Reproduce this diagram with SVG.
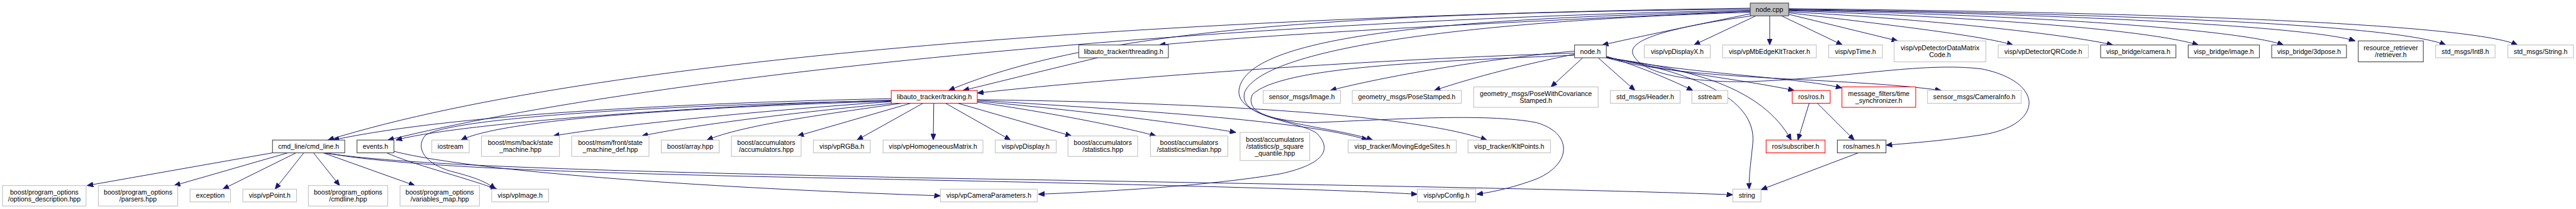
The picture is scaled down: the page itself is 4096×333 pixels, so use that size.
<svg xmlns="http://www.w3.org/2000/svg" width="4096" height="333" viewBox="0 0 4096 333">
<style>
rect{stroke-width:1.3}
.g{fill:#fff;stroke:#bfbfbf}
.b{fill:#fff;stroke:#404040}
.r{fill:#fff;stroke:#ff0000}
.root{fill:#bfbfbf;stroke:#404040}
text{font-family:"Liberation Sans",Arial,Helvetica,sans-serif;font-size:13.1px;text-anchor:middle;fill:#000}
#edges path{fill:none;stroke:#191970;stroke-width:1.2;marker-end:url(#ah)}
</style>
<defs>
<marker id="ah" markerUnits="userSpaceOnUse" markerWidth="12" markerHeight="10" viewBox="0 0 12 10" refX="12" refY="5" orient="auto">
<path d="M0,0 L12,5 L0,10 z" fill="#191970" stroke="#191970" stroke-width="1"/>
</marker>
</defs>
<rect width="4096" height="333" fill="#fff"/>
<g transform="scale(0.81446)">
<g id="edges">
<path d="M3417,27 C3330,45 3230,65 3128,88"/>
<path d="M3417,22 C3000,40 2500,65 2263,88"/>
<path d="M3428,31 L3307,88"/>
<path d="M3455,31 L3455,88"/>
<path d="M3478,31 L3597,88"/>
<path d="M3492,28 L3705,80"/>
<path d="M3492,25 C3700,50 3870,70 3930,88"/>
<path d="M3492,23 C3800,40 4050,70 4125,88"/>
<path d="M3492,21 C3900,35 4200,60 4292,88"/>
<path d="M3492,20 C4000,30 4380,60 4458,88"/>
<path d="M3492,19 C4100,28 4520,55 4598,80"/>
<path d="M3492,18 C4200,28 4680,50 4775,88"/>
<path d="M3492,17 C4300,25 4830,50 4915,88"/>
<path d="M3417,18 C2700,25 2150,50 1852,177"/>
<path d="M3417,16 C2400,30 1200,100 640,274"/>
<path d="M3417,20 C2400,40 1300,140 757,274"/>
<path d="M3417,22 C2900,35 2450,60 2420,170 C2400,240 2600,245 2680,274"/>
<path d="M3417,24 C2900,40 2470,90 2430,180 C2415,230 2530,235 2570,260 C2600,290 2590,320 2500,340 C2350,365 2150,375 2027,380"/>
<path d="M3074,108 C2800,120 2500,130 2445,185 C2430,220 2480,235 2560,240 C2700,235 2900,220 3000,240 C3070,260 3070,320 3000,350 C2960,365 2920,375 2883,380"/>
<path d="M3420,31 C3250,55 3170,80 3190,110 C3210,145 3300,160 3400,160 C3600,155 3750,120 3870,135 C3990,160 3990,240 3880,262 C3800,275 3730,280 3682,284"/>
<path d="M3074,104 C2700,115 2200,150 1908,182"/>
<path d="M3074,100 C2900,115 2700,150 2597,177"/>
<path d="M3074,106 C2980,125 2880,150 2800,177"/>
<path d="M3090,113 L3028,170"/>
<path d="M3120,113 L3192,177"/>
<path d="M3136,110 C3200,130 3260,155 3305,177"/>
<path d="M3136,111 C3250,140 3400,155 3503,177"/>
<path d="M3136,112 C3300,145 3500,150 3596,172"/>
<path d="M3136,113 C3300,160 3600,150 3790,177"/>
<path d="M3136,113 C3300,135 3440,170 3497,274"/>
<path d="M3136,112 C3300,140 3430,190 3422,280 C3418,320 3414,345 3415,370"/>
<path d="M2143,113 C2050,135 1950,160 1880,177"/>
<path d="M1740,193 C1400,200 900,220 650,274"/>
<path d="M1740,196 C1400,205 900,240 773,274"/>
<path d="M1740,198 C1500,205 1000,225 900,274"/>
<path d="M1740,199 C1500,215 1200,245 1080,266"/>
<path d="M1745,202 C1550,220 1350,245 1253,266"/>
<path d="M1760,202 C1600,225 1450,245 1380,274"/>
<path d="M1778,202 L1557,266"/>
<path d="M1802,202 L1673,274"/>
<path d="M1823,202 L1822,274"/>
<path d="M1846,202 L1973,274"/>
<path d="M1870,202 L2092,266"/>
<path d="M1908,200 C2050,220 2200,250 2257,266"/>
<path d="M1908,198 C2150,220 2330,245 2413,259"/>
<path d="M1908,196 C2200,215 2550,235 2670,274"/>
<path d="M1908,195 C2300,200 2750,220 2903,274"/>
<path d="M1740,197 C1300,205 880,230 830,265 C810,290 830,320 880,335 C920,345 950,355 967,370"/>
<path d="M755,299 C800,320 900,345 970,370"/>
<path d="M769,296 C900,330 1300,365 1836,383"/>
<path d="M532,299 L170,363"/>
<path d="M562,299 L340,363"/>
<path d="M578,299 L435,370"/>
<path d="M593,299 L537,370"/>
<path d="M612,299 L663,363"/>
<path d="M631,299 L810,363"/>
<path d="M635,299 C800,330 1200,340 1700,350 C2200,360 2600,370 2767,380"/>
<path d="M632,299 C800,325 1200,335 1800,348 C2500,360 3100,370 3383,381"/>
<path d="M3532,202 L3510,274"/>
<path d="M3548,202 L3620,274"/>
<path d="M3628,299 L3438,371"/>
</g>
<g id="n_nodecpp"><rect class="root" x="3417" y="6" width="75" height="25"/><text x="3454.5" y="23">node.cpp</text></g>
<g id="n_threading"><rect class="b" x="2106" y="88" width="175" height="25"/><text x="2193.5" y="105">libauto_tracker/threading.h</text></g>
<g id="n_nodeh"><rect class="b" x="3074" y="88" width="62" height="25"/><text x="3105" y="105">node.h</text></g>
<g id="n_vpDisplayX"><rect class="g" x="3210" y="88" width="129" height="25"/><text x="3274.5" y="105">visp/vpDisplayX.h</text></g>
<g id="n_vpMbEdgeKlt"><rect class="g" x="3363" y="88" width="183" height="25"/><text x="3454.5" y="105">visp/vpMbEdgeKltTracker.h</text></g>
<g id="n_vpTime"><rect class="g" x="3570" y="88" width="105" height="25"/><text x="3622.5" y="105">visp/vpTime.h</text></g>
<g id="n_dataMatrix"><rect class="g" x="3698" y="80" width="179" height="41"/><text x="3787.5" y="98">visp/vpDetectorDataMatrix</text><text x="3787.5" y="112">Code.h</text></g>
<g id="n_qrcode"><rect class="g" x="3901" y="88" width="176" height="25"/><text x="3989" y="105">visp/vpDetectorQRCode.h</text></g>
<g id="n_camera"><rect class="b" x="4101" y="88" width="147" height="25"/><text x="4174.5" y="105">visp_bridge/camera.h</text></g>
<g id="n_image"><rect class="b" x="4272" y="88" width="139" height="25"/><text x="4341.5" y="105">visp_bridge/image.h</text></g>
<g id="n_3dpose"><rect class="b" x="4435" y="88" width="146" height="25"/><text x="4508" y="105">visp_bridge/3dpose.h</text></g>
<g id="n_retriever"><rect class="b" x="4604" y="80" width="127" height="41"/><text x="4667.5" y="98">resource_retriever</text><text x="4667.5" y="112">/retriever.h</text></g>
<g id="n_int8"><rect class="g" x="4755" y="88" width="116" height="25"/><text x="4813" y="105">std_msgs/Int8.h</text></g>
<g id="n_string_msg"><rect class="g" x="4896" y="88" width="128" height="25"/><text x="4960" y="105">std_msgs/String.h</text></g>
<g id="n_tracking"><rect class="r" x="1740" y="177" width="168" height="25"/><text x="1824" y="194">libauto_tracker/tracking.h</text></g>
<g id="n_sensorImage"><rect class="g" x="2466" y="177" width="151" height="25"/><text x="2541.5" y="194">sensor_msgs/Image.h</text></g>
<g id="n_poseStamped"><rect class="g" x="2640" y="177" width="213" height="25"/><text x="2746.5" y="194">geometry_msgs/PoseStamped.h</text></g>
<g id="n_poseCov"><rect class="g" x="2877" y="170" width="243" height="40"/><text x="2998.5" y="187.5">geometry_msgs/PoseWithCovariance</text><text x="2998.5" y="201.5">Stamped.h</text></g>
<g id="n_header"><rect class="g" x="3144" y="177" width="136" height="25"/><text x="3212" y="194">std_msgs/Header.h</text></g>
<g id="n_sstream"><rect class="g" x="3303" y="177" width="70" height="25"/><text x="3338" y="194">sstream</text></g>
<g id="n_ros"><rect class="r" x="3499" y="177" width="74" height="25"/><text x="3536" y="194">ros/ros.h</text></g>
<g id="n_timesync"><rect class="r" x="3596" y="170" width="144" height="40"/><text x="3668" y="187.5">message_filters/time</text><text x="3668" y="201.5">_synchronizer.h</text></g>
<g id="n_caminfo"><rect class="g" x="3763" y="177" width="183" height="25"/><text x="3854.5" y="194">sensor_msgs/CameraInfo.h</text></g>
<g id="n_cmdline_h"><rect class="b" x="532" y="274" width="141" height="25"/><text x="602.5" y="291">cmd_line/cmd_line.h</text></g>
<g id="n_events"><rect class="b" x="697" y="274" width="72" height="25"/><text x="733" y="291">events.h</text></g>
<g id="n_iostream"><rect class="g" x="843" y="274" width="73" height="25"/><text x="879.5" y="291">iostream</text></g>
<g id="n_sm_back"><rect class="g" x="940" y="266" width="152" height="40"/><text x="1016" y="283.5">boost/msm/back/state</text><text x="1016" y="297.5">_machine.hpp</text></g>
<g id="n_sm_front"><rect class="g" x="1116" y="266" width="151" height="40"/><text x="1191.5" y="283.5">boost/msm/front/state</text><text x="1191.5" y="297.5">_machine_def.hpp</text></g>
<g id="n_array"><rect class="g" x="1291" y="274" width="113" height="25"/><text x="1347.5" y="291">boost/array.hpp</text></g>
<g id="n_accum"><rect class="g" x="1428" y="266" width="136" height="40"/><text x="1496" y="283.5">boost/accumulators</text><text x="1496" y="297.5">/accumulators.hpp</text></g>
<g id="n_rgba"><rect class="g" x="1588" y="274" width="111" height="25"/><text x="1643.5" y="291">visp/vpRGBa.h</text></g>
<g id="n_homog"><rect class="g" x="1724" y="274" width="195" height="25"/><text x="1821.5" y="291">visp/vpHomogeneousMatrix.h</text></g>
<g id="n_display"><rect class="g" x="1943" y="274" width="119" height="25"/><text x="2002.5" y="291">visp/vpDisplay.h</text></g>
<g id="n_stats"><rect class="g" x="2085" y="266" width="136" height="40"/><text x="2153" y="283.5">boost/accumulators</text><text x="2153" y="297.5">/statistics.hpp</text></g>
<g id="n_median"><rect class="g" x="2246" y="266" width="151" height="40"/><text x="2321.5" y="283.5">boost/accumulators</text><text x="2321.5" y="297.5">/statistics/median.hpp</text></g>
<g id="n_psquare"><rect class="g" x="2421" y="259" width="136" height="55"/><text x="2489" y="277">boost/accumulators</text><text x="2489" y="291">/statistics/p_square</text><text x="2489" y="305">_quantile.hpp</text></g>
<g id="n_movingedge"><rect class="g" x="2632" y="274" width="211" height="25"/><text x="2737.5" y="291">visp_tracker/MovingEdgeSites.h</text></g>
<g id="n_klt"><rect class="g" x="2866" y="274" width="161" height="25"/><text x="2946.5" y="291">visp_tracker/KltPoints.h</text></g>
<g id="n_subscriber"><rect class="r" x="3448" y="274" width="115" height="25"/><text x="3505.5" y="291">ros/subscriber.h</text></g>
<g id="n_names"><rect class="b" x="3587" y="274" width="95" height="25"/><text x="3634.5" y="291">ros/names.h</text></g>
<g id="n_optdesc"><rect class="g" x="5" y="363" width="163" height="40"/><text x="86.5" y="380.5">boost/program_options</text><text x="86.5" y="394.5">/options_description.hpp</text></g>
<g id="n_parsers"><rect class="g" x="192" y="363" width="155" height="40"/><text x="269.5" y="380.5">boost/program_options</text><text x="269.5" y="394.5">/parsers.hpp</text></g>
<g id="n_exception"><rect class="g" x="371" y="370" width="79" height="25"/><text x="410.5" y="387">exception</text></g>
<g id="n_vppoint"><rect class="g" x="474" y="370" width="105" height="25"/><text x="526.5" y="387">visp/vpPoint.h</text></g>
<g id="n_cmdline_hpp"><rect class="g" x="602" y="363" width="155" height="40"/><text x="679.5" y="380.5">boost/program_options</text><text x="679.5" y="394.5">/cmdline.hpp</text></g>
<g id="n_varmap"><rect class="g" x="781" y="363" width="155" height="40"/><text x="858.5" y="380.5">boost/program_options</text><text x="858.5" y="394.5">/variables_map.hpp</text></g>
<g id="n_vpimage"><rect class="g" x="960" y="370" width="111" height="25"/><text x="1015.5" y="387">visp/vpImage.h</text></g>
<g id="n_campar"><rect class="g" x="1836" y="370" width="189" height="25"/><text x="1930.5" y="387">visp/vpCameraParameters.h</text></g>
<g id="n_vpconfig"><rect class="g" x="2767" y="370" width="114" height="25"/><text x="2824" y="387">visp/vpConfig.h</text></g>
<g id="n_string"><rect class="g" x="3383" y="370" width="55" height="25"/><text x="3410.5" y="387">string</text></g>
</g>
</svg>
